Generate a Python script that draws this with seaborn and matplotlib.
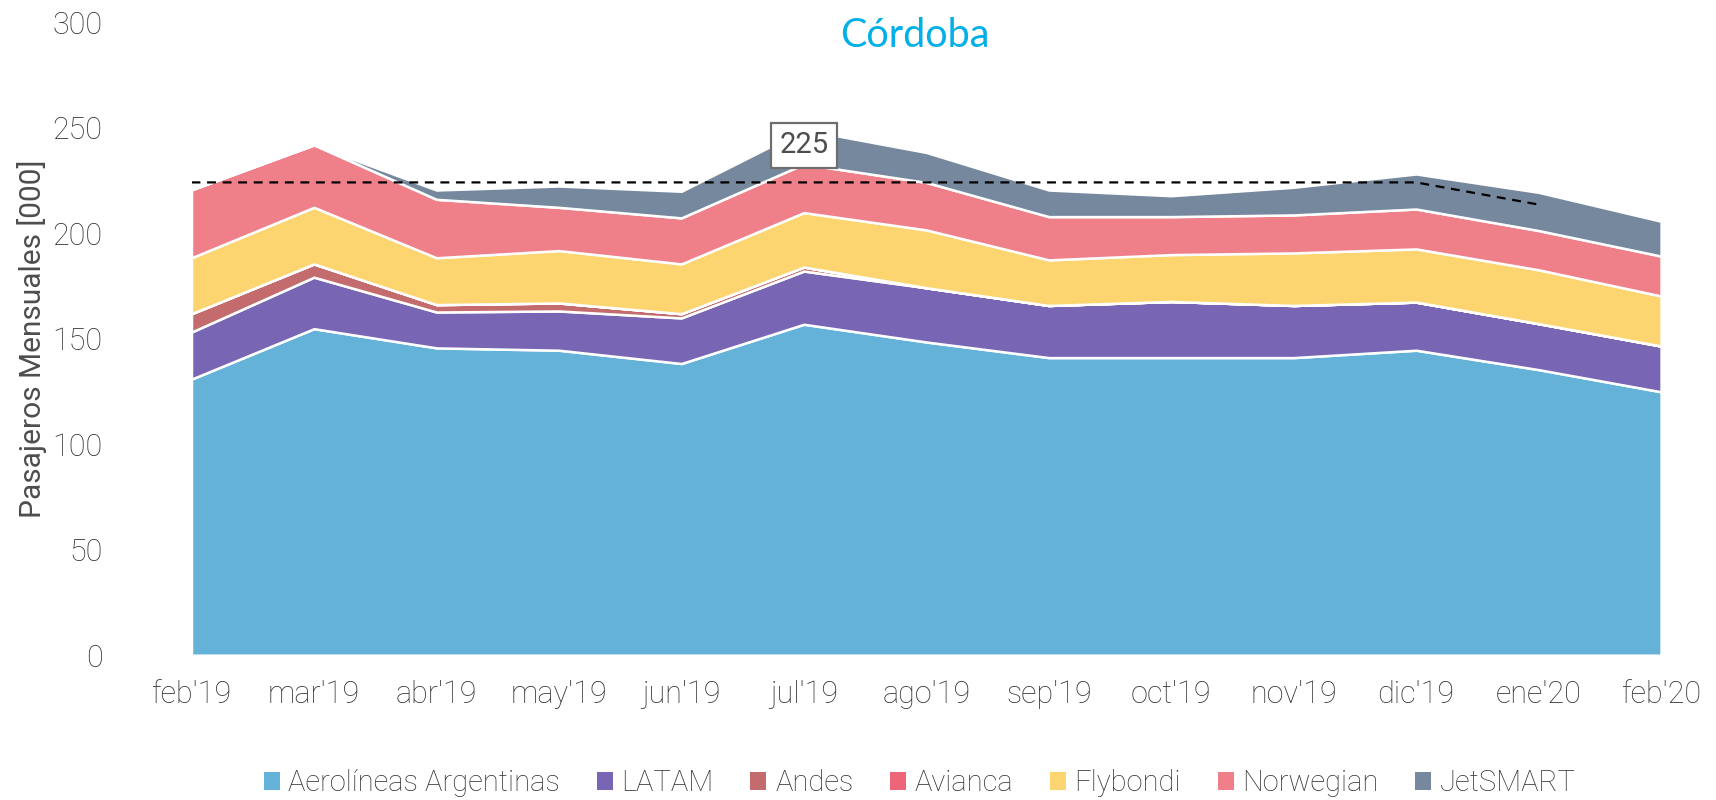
import numpy as np
import pandas as pd
import seaborn as sns
import matplotlib
matplotlib.use("Agg")
import matplotlib.pyplot as plt
from matplotlib.patches import Patch

# datos (miles de pasajeros por mes)
meses = ["feb'19", "mar'19", "abr'19", "may'19", "jun'19", "jul'19", "ago'19",
         "sep'19", "oct'19", "nov'19", "dic'19", "ene'20", "feb'20"]
aerolineas = [130.8, 154.7, 145.6, 144.5, 138.2, 156.8, 148.4, 141.0, 141.0, 141.0, 144.5, 135.3, 124.8]
latam = [22.3, 24.4, 17.0, 18.6, 21.6, 25.2, 25.7, 24.7, 26.6, 24.7, 22.8, 21.8, 21.7]
andes = [8.7, 6.3, 3.5, 3.8, 2.0, 1.9, 0, 0, 0, 0, 0, 0, 0]
avianca = [0, 0, 0, 0, 0, 0, 0, 0, 0, 0, 0, 0, 0]
flybondi = [26.5, 26.8, 22.2, 24.8, 23.6, 25.8, 27.4, 21.6, 22.2, 24.9, 25.2, 25.5, 23.7]
norwegian = [32.2, 29.6, 27.7, 20.5, 21.8, 23.0, 22.5, 20.5, 18.0, 18.0, 18.9, 18.6, 18.9]
jetsmart = [0, 0, 4.4, 10.1, 12.6, 16.3, 14.2, 12.6, 9.9, 13.1, 16.6, 18.1, 16.5]
promedio = [224, 224, 224, 224, 224, 224, 224, 224, 224, 224, 224, 213.5]
etiqueta = "225"

aerolineas_nombres = ["Aerolíneas Argentinas", "LATAM", "Andes", "Avianca",
                      "Flybondi", "Norwegian", "JetSMART"]
colores = ["#65B2D9", "#7866B4", "#C46B6E", "#EE6478", "#FDD570", "#EF808A", "#75889E"]

sns.set_theme(style="white")
plt.rcParams['font.family'] = ['Roboto', 'DejaVu Sans']
gris = "#4D4D4D"
gris_osc = "#333333"

fig = plt.figure(figsize=(17.16, 8), dpi=100)
ax = fig.add_axes([0.1116, 0.181, 0.8564, 0.7915])

x = np.arange(len(meses))
series = [aerolineas, latam, andes, avianca, flybondi, norwegian, jetsmart]
ax.stackplot(x, *series, colors=colores, edgecolor="white", linewidth=1.8)

df_prom = pd.DataFrame({"x": x[:len(promedio)], "y": promedio})
sns.lineplot(data=df_prom, x="x", y="y", ax=ax, color="black",
             linestyle=(0, (4, 3)), linewidth=1.6)

ax.text(5, 241.5, etiqueta, ha="center", va="center", fontsize=21, color=gris,
        bbox=dict(boxstyle="square,pad=0.28", fc="white", ec="#6E6E6E", lw=1.6))

ax.set_xlim(0, 12)
ax.set_ylim(0, 300)
ax.set_xticks(x)
ax.set_xticklabels(meses, fontsize=22, color=gris_osc, fontweight="light")
ax.set_yticks(range(0, 301, 50))
ax.set_yticklabels([str(v) for v in range(0, 301, 50)], fontsize=22,
                   color=gris_osc, fontweight="light")
ax.tick_params(axis="x", length=0, pad=18)
ax.tick_params(axis="y", length=0, pad=64)
ax.set_xlabel("")
ax.set_ylabel("Pasajeros Mensuales [000]", fontsize=21.5, color=gris)
ax.yaxis.set_label_coords(-0.098, 0.5)
for s in ax.spines.values():
    s.set_visible(False)

ax.text(0.492, 0.978, "Córdoba", transform=ax.transAxes, ha="center",
        va="center", fontsize=28.5, color="#00B0E6",
        family=["Lato", "DejaVu Sans"])

handles = [Patch(facecolor=c, edgecolor="none") for c in colores]
fig.legend(handles, aerolineas_nombres, loc="center", ncol=7,
           bbox_to_anchor=(0.536, 0.021), frameon=False,
           prop={"size": 21, "weight": "light"},
           handlelength=0.55, handleheight=0.55, handletextpad=0.3,
           columnspacing=1.25, labelcolor=gris_osc)

fig.savefig("out.png", dpi=100)
